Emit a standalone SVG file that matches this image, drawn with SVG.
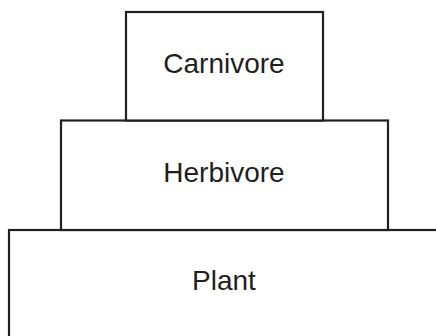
<svg xmlns="http://www.w3.org/2000/svg" width="436" height="336" viewBox="0 0 436 336">
  <style>
    .tier { fill: #ffffff; stroke: #231f20; stroke-width: 2.2; }
    .label { font-family: "Liberation Sans", Arial, sans-serif; font-size: 28px; fill: #231f20; text-anchor: middle; }
  </style>
  <rect width="436" height="336" fill="#ffffff"/>
  <!-- Trophic pyramid, bottom tier first so upper tiers sit on top -->
  <g id="plant">
    <rect class="tier" x="9" y="230" width="440" height="120"/>
    <text class="label" x="224" y="290">Plant</text>
  </g>
  <g id="herbivore">
    <rect class="tier" x="61" y="120.5" width="327" height="109.5"/>
    <text class="label" x="224" y="182">Herbivore</text>
  </g>
  <g id="carnivore">
    <rect class="tier" x="126" y="12" width="197" height="108.5"/>
    <text class="label" x="224" y="73">Carnivore</text>
  </g>
  <g id="connectors"/>
</svg>
